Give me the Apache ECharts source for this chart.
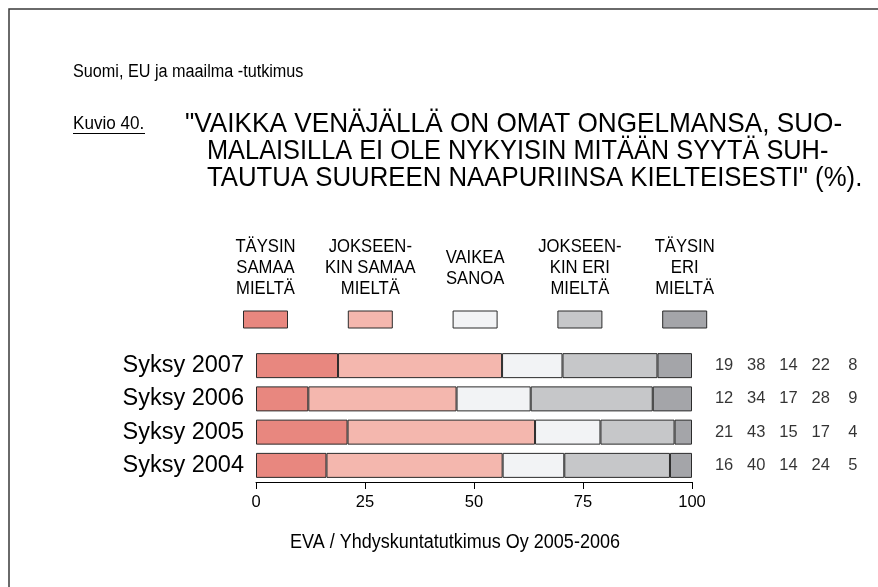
<!DOCTYPE html>
<html>
<head>
<meta charset="utf-8">
<script src="https://cdn.jsdelivr.net/npm/echarts@6/dist/echarts.min.js"></script>
<style>
  html, body { margin: 0; padding: 0; background: #fff; }
  #chart { width: 878px; height: 587px; }
</style>
</head>
<body>
<div id="chart"></div>
<script>
// Survey rounds (top to bottom) and answer shares in percent
const rounds = ['Syksy 2007', 'Syksy 2006', 'Syksy 2005', 'Syksy 2004'];
const answerNames = [
  'TÄYSIN\nSAMAA\nMIELTÄ',
  'JOKSEEN-\nKIN SAMAA\nMIELTÄ',
  'VAIKEA\nSANOA',
  'JOKSEEN-\nKIN ERI\nMIELTÄ',
  'TÄYSIN\nERI\nMIELTÄ'
];
const fullyAgree    = [19, 12, 21, 16];
const somewhatAgree = [38, 34, 43, 40];
const hardToSay     = [14, 17, 15, 14];
const somewhatDis   = [22, 28, 17, 24];
const fullyDis      = [8, 9, 4, 5];
const xTicks = [0, 25, 50, 75, 100];

const colors = ['#E8877F', '#F4B7AE', '#F2F3F5', '#C6C7C9', '#A4A5A9'];
const FONT = '"Liberation Sans", Arial, sans-serif';
const NARROW = 0.9; // horizontal squeeze for the condensed look of the texts

const answers = [fullyAgree, somewhatAgree, hardToSay, somewhatDis, fullyDis];
// each bar spans the full width: shares are scaled by the row total
const totals = rounds.map((_, r) => answers.reduce((s, a) => s + a[r], 0));

const chart = echarts.init(document.getElementById('chart'), null, { renderer: 'canvas' });

const barSeries = answers.map((vals, k) => ({
  name: answerNames[k],
  type: 'bar',
  stack: 'share',
  xAxisIndex: 0,
  yAxisIndex: 0,
  barWidth: 25,
  itemStyle: { color: colors[k], borderColor: '#2b2b2b', borderWidth: 1 },
  emphasis: { disabled: true },
  data: vals.map((v, r) => v / totals[r] * 100)
}));

// numeric table on the right of the bars
const tableData = [];
answers.forEach((vals, k) => vals.forEach((v, r) => tableData.push([k, r, v])));

function label(text, x, y, size, opts, sx) {
  return {
    type: 'text', x: x, y: y, scaleX: sx || NARROW, silent: true,
    style: Object.assign({
      text: text, font: size + 'px ' + FONT, fill: '#000', verticalAlign: 'middle'
    }, opts || {})
  };
}

const legendGraphics = [];
answerNames.forEach((name, k) => {
  const cx = 265.5 + k * 104.8;
  legendGraphics.push(label(name, cx, 268, 18.5, { align: 'center', lineHeight: 21 }));
  legendGraphics.push({
    type: 'rect', silent: true,
    shape: { x: cx - 22, y: 311, width: 44, height: 17 },
    style: { fill: colors[k], stroke: '#2b2b2b', lineWidth: 1 }
  });
});

const option = {
  animation: false,
  backgroundColor: '#fff',
  grid: [
    { left: 256, right: 186, top: 349, bottom: 105, containLabel: false },
    { left: 708, right: 9, top: 349, bottom: 105, containLabel: false }
  ],
  xAxis: [
    {
      type: 'value', gridIndex: 0, min: 0, max: 100, interval: 25,
      axisLine: { show: true, lineStyle: { color: '#000', width: 1 } },
      axisTick: { show: true, length: 7, lineStyle: { color: '#000' } },
      axisLabel: {
        color: '#000', fontSize: 16.5, fontFamily: FONT, margin: 12,
        formatter: v => xTicks.includes(v) ? String(v) : ''
      },
      splitLine: { show: false }
    },
    {
      type: 'category', gridIndex: 1, data: [0, 1, 2, 3, 4],
      show: false
    }
  ],
  yAxis: [
    {
      type: 'category', gridIndex: 0, data: rounds, inverse: true,
      axisLine: { show: false }, axisTick: { show: false },
      axisLabel: { color: '#000', fontSize: 23.5, fontFamily: FONT, margin: 12 }
    },
    {
      type: 'category', gridIndex: 1, data: rounds, inverse: true,
      show: false
    }
  ],
  series: barSeries.concat([{
    type: 'scatter', xAxisIndex: 1, yAxisIndex: 1,
    symbolSize: 0, silent: true,
    data: tableData,
    label: {
      show: true, position: 'inside', color: '#000',
      fontSize: 16.5, fontFamily: FONT,
      formatter: p => String(p.value[2])
    }
  }]),
  graphic: [
    {
      type: 'polyline', silent: true,
      shape: { points: [[9, 587], [9, 9], [878, 9]] },
      style: { stroke: '#3a3a3a', lineWidth: 1.5, fill: null }
    },
    label('Suomi, EU ja maailma -tutkimus', 73, 72, 18),
    label('Kuvio 40.', 73, 124, 19),
    {
      type: 'line', silent: true,
      shape: { x1: 73, y1: 133.5, x2: 145, y2: 133.5 },
      style: { stroke: '#000', lineWidth: 1 }
    },
    label('"VAIKKA VENÄJÄLLÄ ON OMAT ONGELMANSA, SUO-', 185, 124, 27.5, null, 0.952),
    label('MALAISILLA EI OLE NYKYISIN MITÄÄN SYYTÄ SUH-', 207, 151, 27.5, null, 0.922),
    label('TAUTUA SUUREEN NAAPURIINSA KIELTEISESTI" (%).', 207, 178, 27.5, null, 0.937),
    label('EVA / Yhdyskuntatutkimus Oy 2005-2006', 455, 542, 20, { align: 'center' })
  ].concat(legendGraphics)
};

chart.setOption(option);
</script>
</body>
</html>
